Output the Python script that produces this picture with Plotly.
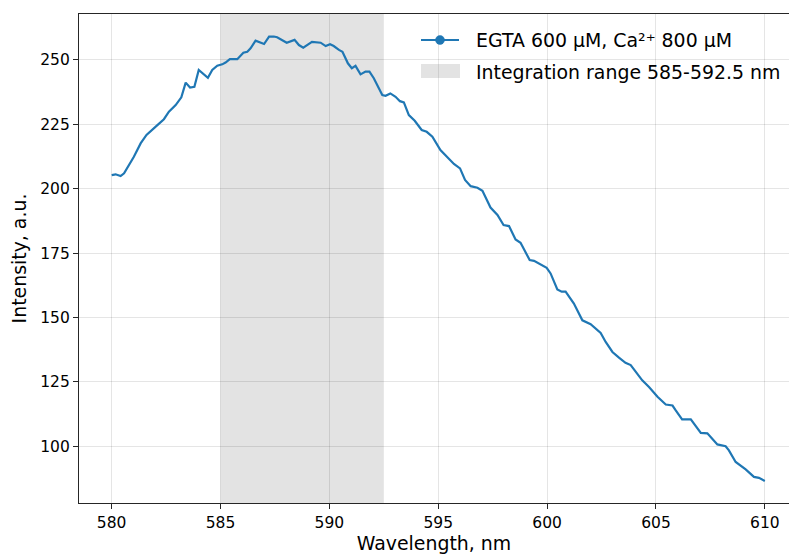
import plotly.graph_objects as go

# Emission spectrum (wavelength in nm, intensity in a.u.)
wavelength = [
    580.0, 580.18, 580.41, 580.57, 581.02, 581.33, 581.6, 581.87, 582.1, 582.4,
    582.63, 582.94, 583.2, 583.4, 583.6, 583.8, 584.0, 584.42, 584.62, 584.85,
    585.08, 585.23, 585.43, 585.77, 586.05, 586.23, 586.38, 586.61, 587.0, 587.23,
    587.45, 587.6, 588.04, 588.4, 588.6, 588.8, 588.98, 589.2, 589.6, 589.83,
    590.03, 590.2, 590.44, 590.6, 590.85, 591.03, 591.2, 591.43, 591.66, 591.84,
    592.04, 592.43, 592.58, 592.8, 593.04, 593.24, 593.42, 593.65, 593.92, 594.24,
    594.47, 594.73, 595.1, 595.4, 595.72, 596.0, 596.23, 596.49, 596.8, 597.03,
    597.4, 597.72, 598.0, 598.25, 598.55, 598.78, 599.2, 599.4, 599.7, 599.98,
    600.16, 600.47, 600.67, 600.85, 601.23, 601.62, 602.0, 602.46, 602.69, 603.0,
    603.3, 603.6, 603.84, 604.37, 604.68, 605.07, 605.45, 605.76, 605.9, 606.2,
    606.6, 607.06, 607.36, 607.82, 608.2, 608.35, 608.66, 609.12, 609.5, 609.73,
    610.0,
]
intensity = [
    205.3, 205.6, 204.9, 206.0, 212.4, 217.6, 220.9, 222.8, 224.7, 227.0,
    229.9, 232.5, 235.5, 241.2, 239.3, 239.6, 246.1, 243.1, 246.1, 247.8,
    248.3, 249.0, 250.3, 250.3, 252.8, 253.2, 254.5, 257.5, 256.2, 259.1,
    259.1, 258.8, 256.7, 257.8, 255.8, 254.8, 255.8, 257.0, 256.7, 255.4,
    256.1, 255.4, 253.9, 253.2, 248.7, 246.8, 247.7, 244.4, 245.5, 245.5,
    242.9, 236.4, 236.1, 237.0, 235.7, 234.0, 233.5, 228.6, 226.4, 222.8,
    222.1, 220.2, 215.0, 212.4, 209.6, 207.9, 203.4, 201.0, 200.4, 199.2,
    192.7, 189.8, 185.9, 185.5, 180.3, 179.0, 172.3, 172.0, 170.7, 169.3,
    167.1, 160.9, 160.0, 160.0, 155.4, 148.9, 147.4, 144.0, 140.5, 136.6,
    134.4, 132.4, 131.5, 125.6, 123.0, 119.2, 116.2, 115.8, 114.0, 110.4,
    110.4, 105.2, 105.0, 100.7, 100.0, 98.4, 93.9, 91.0, 88.1, 87.7,
    86.5,
]

integration_range = [585.0, 592.5]
x_ticks = [580, 585, 590, 595, 600, 605, 610]
y_ticks = [100, 125, 150, 175, 200, 225, 250]

series_label = "EGTA 600 µM, Ca²⁺ 800 µM"
range_label = "Integration range 585-592.5 nm"

BLUE = "#1f77b4"
SHADE = "rgba(128,128,128,0.22)"
FONT = "DejaVu Sans"

W, H = 789, 555
ML, MR, MT, MB = 79, 0, 14, 52
PW, PH = W - ML - MR, H - MT - MB


def px(x):
    return (x - ML) / PW


def py(y):
    return (H - MB - y) / PH


fig = go.Figure()
fig.add_trace(go.Scatter(
    x=wavelength, y=intensity, mode="lines",
    line=dict(color=BLUE, width=2.2), showlegend=False,
))

# shaded integration window, beneath the grid
fig.add_shape(type="rect", xref="x", yref="paper",
              x0=integration_range[0], x1=integration_range[1], y0=0, y1=1,
              fillcolor=SHADE, line_width=0, layer="below")

# legend entries
fig.add_shape(type="line", xref="paper", yref="paper",
              x0=px(421), x1=px(459), y0=py(40), y1=py(40),
              line=dict(color=BLUE, width=2.2))
fig.add_shape(type="circle", xref="paper", yref="paper",
              x0=px(435.5), x1=px(444.5), y0=py(44.5), y1=py(35.5),
              fillcolor=BLUE, line=dict(color=BLUE, width=0.5))
fig.add_shape(type="rect", xref="paper", yref="paper",
              x0=px(421), x1=px(460), y0=py(78), y1=py(64),
              fillcolor=SHADE, line_width=0)
fig.add_annotation(text=series_label, xref="paper", yref="paper",
                   x=px(474), y=py(40), xanchor="left", yanchor="middle",
                   showarrow=False, font=dict(family=FONT, size=18.9, color="black"))
fig.add_annotation(text=range_label, xref="paper", yref="paper",
                   x=px(474), y=py(71.5), xanchor="left", yanchor="middle",
                   showarrow=False, font=dict(family=FONT, size=18.9, color="black"))

axis_common = dict(
    showgrid=True, gridcolor="rgba(0,0,0,0.1)", gridwidth=1.2,
    zeroline=False, showline=True, linecolor="#262626", linewidth=1.2,
    ticks="outside", ticklen=5, tickwidth=1.2, tickcolor="#262626",
    tickfont=dict(family=FONT, size=15.5, color="black"),
)

fig.update_xaxes(
    range=[578.5, 611.11], tickvals=x_ticks, mirror=True,
    title=dict(text="Wavelength, nm", font=dict(family=FONT, size=18.9, color="black"),
               standoff=5),
    **axis_common,
)
fig.update_yaxes(
    range=[77.95, 267.85], tickvals=y_ticks,
    title=dict(text="Intensity, a.u.", font=dict(family=FONT, size=18.9, color="black"),
               standoff=8),
    **axis_common,
)

fig.update_layout(
    width=W, height=H,
    margin=dict(l=ML, r=MR, t=MT, b=MB),
    plot_bgcolor="white", paper_bgcolor="white",
    font=dict(family=FONT),
)

fig.write_html("out.html")
